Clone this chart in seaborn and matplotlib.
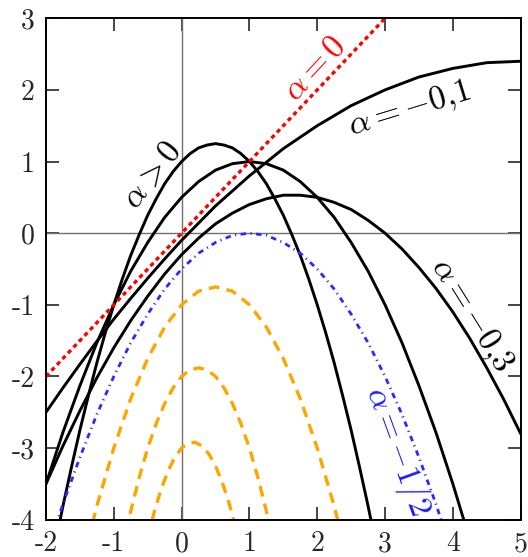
import numpy as np
import pandas as pd
import matplotlib
matplotlib.use('Agg')
import matplotlib.pyplot as plt
import seaborn as sns

# x grid used for the wide curves
x_wide = [-2, -1.75, -1.5, -1.25, -1, -0.75, -0.5, -0.25, 0, 0.25, 0.5, 0.75, 1,
          1.25, 1.5, 1.75, 2, 2.25, 2.5, 2.75, 3, 3.25, 3.5, 3.75, 4, 4.25, 4.5, 4.75, 5]

# alpha = -0.1
y_m01 = [-2.5, -2.16, -1.83, -1.51, -1.2, -0.91, -0.63, -0.36, -0.1, 0.14, 0.38, 0.59, 0.8,
         0.99, 1.18, 1.34, 1.5, 1.64, 1.78, 1.89, 2.0, 2.09, 2.18, 2.24, 2.3, 2.34, 2.38, 2.39, 2.4]

# alpha = -0.3
y_m03 = [-3.5, -2.97, -2.48, -2.02, -1.6, -1.22, -0.88, -0.57, -0.3, -0.07, 0.13, 0.28, 0.4,
         0.48, 0.53, 0.53, 0.5, 0.43, 0.33, 0.18, 0.0, -0.22, -0.48, -0.77, -1.1, -1.47, -1.88, -2.32, -2.8]

# alpha > 0 (two curves)
x_p05 = x_wide[:26]
y_p05 = [-3.5, -2.78, -2.13, -1.53, -1.0, -0.53, -0.13, 0.22, 0.5, 0.72, 0.88, 0.97, 1.0,
         0.97, 0.88, 0.72, 0.5, 0.22, -0.13, -0.53, -1.0, -1.53, -2.13, -2.78, -3.5, -4.28]
x_p1 = [-1.875, -1.75, -1.625, -1.5, -1.375, -1.25, -1.125, -1, -0.875, -0.75, -0.625,
        -0.5, -0.375, -0.25, -0.125, 0, 0.125, 0.25, 0.375, 0.5, 0.625, 0.75, 0.875, 1,
        1.125, 1.25, 1.375, 1.5, 1.625, 1.75, 1.875, 2, 2.125, 2.25, 2.375, 2.5, 2.625,
        2.75, 2.875]
y_p1 = [-4.39, -3.81, -3.27, -2.75, -2.27, -1.81, -1.39, -1.0, -0.64, -0.31, -0.02,
        0.25, 0.48, 0.69, 0.86, 1.0, 1.11, 1.19, 1.23, 1.25, 1.23, 1.19, 1.11, 1.0,
        0.86, 0.69, 0.48, 0.25, -0.02, -0.31, -0.64, -1.0, -1.39, -1.81, -2.27, -2.75, -3.27,
        -3.81, -4.39]

# alpha = -1/2
x_half = x_wide[:25]
y_half = [-4.5, -3.78, -3.13, -2.53, -2.0, -1.53, -1.13, -0.78, -0.5, -0.28, -0.13, -0.03, 0.0,
          -0.03, -0.13, -0.28, -0.5, -0.78, -1.13, -1.53, -2.0, -2.53, -3.13, -3.78, -4.5]

# alpha = 0
x_zero = [-2, 5]
y_zero = [-2, 5]

# alpha < -1/2 (orange)
x_m1 = [-1.5, -1.25, -1, -0.75, -0.5, -0.25, 0, 0.25, 0.5, 0.75, 1, 1.25, 1.5, 1.75, 2, 2.25, 2.5]
y_m1 = [-4.75, -3.81, -3.0, -2.31, -1.75, -1.31, -1.0, -0.81, -0.75, -0.81, -1.0, -1.31, -1.75,
        -2.31, -3.0, -3.81, -4.75]
x_m2 = [-0.875, -0.75, -0.625, -0.5, -0.375, -0.25, -0.125, 0, 0.125, 0.25, 0.375, 0.5,
        0.625, 0.75, 0.875, 1.0, 1.125, 1.25, 1.375]
y_m2 = [-4.41, -3.88, -3.41, -3.0, -2.66, -2.38, -2.16, -2.0, -1.91, -1.88, -1.91, -2.0,
        -2.16, -2.38, -2.66, -3.0, -3.41, -3.88, -4.41]
x_m3 = [-0.5, -0.4, -0.3, -0.2, -0.1, 0, 0.1, 0.2, 0.3, 0.4, 0.5, 0.6, 0.7, 0.8]
y_m3 = [-4.25, -3.88, -3.57, -3.32, -3.13, -3.0, -2.93, -2.92, -2.97, -3.08, -3.25, -3.48, -3.77, -4.12]

x_ticks = [-2, -1, 0, 1, 2, 3, 4, 5]
y_ticks = [-4, -3, -2, -1, 0, 1, 2, 3]

sns.set_style('white')
plt.rcParams['mathtext.fontset'] = 'cm'
plt.rcParams['axes.unicode_minus'] = False

fig = plt.figure(figsize=(5.28, 5.57), dpi=100)
ax = fig.add_axes([0.0871, 0.067, 0.899, 0.9002])

ax.axhline(0, color='#707070', lw=1.0, zorder=1)
ax.axvline(0, color='#707070', lw=1.0, zorder=1)

black = dict(color='black', linewidth=2.1, sort=False, ax=ax)
sns.lineplot(x=x_wide, y=y_m01, **black)
sns.lineplot(x=x_wide, y=y_m03, **black)
sns.lineplot(x=x_p05, y=y_p05, **black)
sns.lineplot(x=x_p1, y=y_p1, **black)

orange = dict(color='#ffa500', linewidth=2.4, sort=False, ax=ax, linestyle=(0, (3.2, 2.2)))
sns.lineplot(x=x_m1, y=y_m1, **orange)
sns.lineplot(x=x_m2, y=y_m2, **orange)
sns.lineplot(x=x_m3, y=y_m3, **orange)

sns.lineplot(x=x_half, y=y_half, color='#2a2aff', linewidth=2.0, sort=False, ax=ax,
             linestyle=(0, (2.0, 1.6, 0.4, 1.6)))
sns.lineplot(x=x_zero, y=y_zero, color='red', linewidth=2.4, sort=False, ax=ax,
             linestyle=(0, (1.3, 1.1)))

ax.set_xlim(-2, 5)
ax.set_ylim(-4, 3)
ax.set_xticks(x_ticks)
ax.set_yticks(y_ticks)
ax.set_xticklabels([str(v) for v in x_ticks], fontfamily='cmr10', fontsize=20)
ax.set_yticklabels([str(v) for v in y_ticks], fontfamily='cmr10', fontsize=20)
ax.tick_params(direction='in', length=9.5, width=1.2, top=True, right=True,
               bottom=True, left=True, pad=8)
for s in ax.spines.values():
    s.set_linewidth(1.4)
    s.set_color('black')
ax.set_xlabel('')
ax.set_ylabel('')

fs = 24
ax.text(-0.43, 0.82, r'$\alpha > 0$', rotation=52, fontsize=fs, color='black',
        ha='center', va='center')
ax.text(1.95, 2.31, r'$\alpha = 0$', rotation=47, fontsize=fs, color='red',
        ha='center', va='center')
ax.text(3.37, 1.73, r'$\alpha = -0{,}1$', rotation=17, fontsize=fs, color='black',
        ha='center', va='center')
ax.text(4.27, -1.15, r'$\alpha = -0{,}3$', rotation=-58, fontsize=fs, color='black',
        ha='center', va='center')
ax.text(3.19, -3.04, r'$\alpha = -1/2$', rotation=-70, fontsize=fs, color='#1a1aff',
        ha='center', va='center')

plt.savefig('out.png', dpi=100)
